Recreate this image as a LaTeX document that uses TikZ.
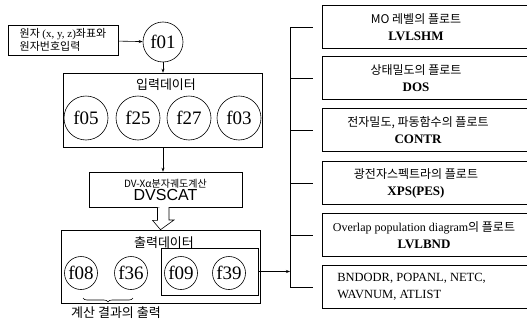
\documentclass[tikz,border=0pt]{standalone}
\usepackage{fontspec}
\setmainfont{Liberation Serif}
\newfontfamily\krfont{Noto Sans CJK KR}
\newfontfamily\arialfont{Liberation Sans}
\usetikzlibrary{arrows.meta,positioning,calc,decorations.pathreplacing}
\tikzset{every picture/.style={line width=0.6pt}}

\begin{document}
\begin{tikzpicture}[x=1pt,y=-1pt,
    fbig/.style={draw,circle,minimum size=44pt,inner sep=0pt,font=\fontsize{19}{19}\selectfont},
    fsmall/.style={draw,circle,minimum size=33pt,inner sep=0pt,font=\fontsize{19}{19}\selectfont},
    databox/.style={draw,rectangle,inner sep=0pt},
    plotbox/.style={draw,rectangle,anchor=west,minimum width=215pt,minimum height=43pt,inner sep=0pt},
    plottext/.style={align=center,inner sep=0pt,font=\fontsize{12}{17}\selectfont},
    arr/.style={-{Stealth[length=4pt,width=3pt]}}]
    \useasboundingbox (0,0) rectangle (527,324);

    % 입력
    \node[draw,align=left,inner sep=2pt,minimum width=110pt,minimum height=30pt,
          font=\fontsize{11}{13.5}\selectfont] (atominp) at (63,40)
          {\krfont 원자 {\rmfamily (x, y, z)}좌표와\\\krfont 원자번호입력};
    \node[fbig,minimum size=40pt] (f01) at (163,42) {f01};
    \draw[arr] (atominp) -- (f01);

    % 입력데이터
    \node[databox,minimum width=199pt,minimum height=74pt] (inpdata) at (162.5,110) {};
    \node[font=\krfont\fontsize{13}{14}\selectfont] (inptitle) at (166,85) {입력데이터};
    \node[fbig] (f05) at (86,118) {f05};
    \node[fbig] (f25) at (138,118) {f25};
    \node[fbig] (f27) at (189,118) {f27};
    \node[fbig] (f03) at (239,118) {f03};
    \draw[arr] (f01) -- (inpdata.north -| f01);

    % 계산
    \node[databox,minimum width=153pt,minimum height=35pt,align=center] (dvscat) at (165.5,189.5)
          {{\krfont\fontsize{10}{11}\selectfont DV-Xα분자궤도계산}\\[1pt]{\arialfont\fontsize{16}{16}\selectfont DVSCAT}};
    \draw[arr] (inpdata.south -| f01) -- (dvscat.north -| f01);

    % 출력데이터
    \node[databox,minimum width=199pt,minimum height=73pt] (outdata) at (160.5,266.5) {};
    \node[font=\krfont\fontsize{13}{14}\selectfont] (outtitle) at (164,243) {출력데이터};
    \node[fsmall] (f08) at (81,273) {f08};
    \node[fsmall] (f36) at (131,273) {f36};
    \node[fsmall] (f09) at (181,273) {f09};
    \node[fsmall] (f39) at (229,273) {f39};
    \node[databox,minimum width=97pt,minimum height=47pt] (plotdata) at (209.5,271.5) {};
    \draw[fill=white] (dvscat.south) ++(-8,0) -- ++(0,13) -- ++(-5,0) -- (outdata.north)
        -- (174,220) -- (169,220) -- ++(0,-13);
    \draw[decorate,decoration={brace,mirror,amplitude=4pt}] (83,298) -- (133,298)
        coordinate[midway] (bracemid);
    \node[font=\krfont\fontsize{13}{14}\selectfont] (calcout) at (116,313) {계산 결과의 출력};

    % 플로트
    \coordinate (bustop) at (290,27);
    \coordinate (busbot) at (290,287);
    \draw (bustop) -- (busbot);
    \draw[arr] (plotdata.east) -- (plotdata.east -| bustop);
    \foreach \name/\yy in {p1/27,p2/78,p3/130,p4/183,p5/235,p6/287}{
        \node[plotbox] (\name) at (322,\yy) {};
        \draw (290,\yy) -- (313,\yy);
    }
    \node[plottext] (t1) at (416,27) {\krfont MO 레벨의 플로트\\\fontsize{13}{13}\selectfont\bfseries LVLSHM};
    \node[plottext] (t2) at (416,78) {\krfont 상태밀도의 플로트\\\fontsize{13}{13}\selectfont\bfseries DOS};
    \node[plottext] (t3) at (418,130) {\krfont 전자밀도, 파동함수의 플로트\\\fontsize{13}{13}\selectfont\bfseries CONTR};
    \node[plottext] (t4) at (416,183) {\krfont 광전자스펙트라의 플로트\\\fontsize{13}{13}\selectfont\bfseries XPS(PES)};
    \node[plottext] (t5) at (424,235) {Overlap population diagram{\krfont 의 플로트}\\\fontsize{13}{13}\selectfont\bfseries LVLBND};
    \node[align=left,inner sep=0pt,anchor=west,font=\fontsize{12.5}{17}\selectfont] (t6) at (337,287)
          {BNDODR, POPANL, NETC,\\WAVNUM, ATLIST};
\end{tikzpicture}
\end{document}
